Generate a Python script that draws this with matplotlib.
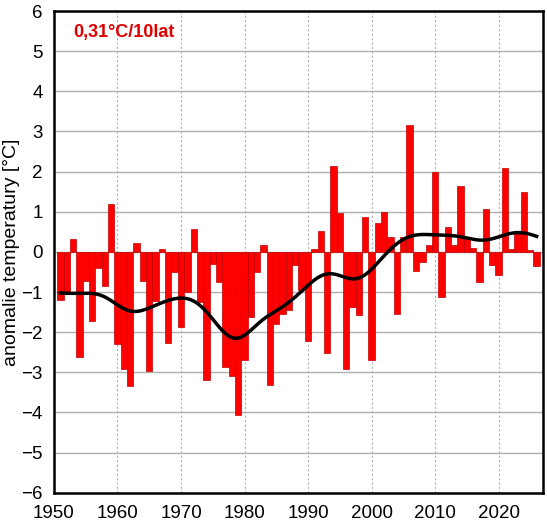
import numpy as np
import matplotlib
matplotlib.use("Agg")
import matplotlib.pyplot as plt

plt.rcParams['font.family'] = ['Liberation Sans', 'DejaVu Sans']

# annual temperature anomalies [°C]
years = list(range(1951, 2027))
anomalies = [
    -1.19, -1.05, 0.33, -2.63, -0.72, -1.71, -0.41, -0.84, 1.19, -2.30,   # 1951-1960
    -2.92, -3.34, 0.22, -0.72, -2.96, -1.22, 0.08, -2.26, -0.50, -1.88,   # 1961-1970
    -1.01, 0.57, -1.25, -3.20, -0.29, -0.75, -2.87, -3.08, -4.07, -2.70,  # 1971-1980
    -1.62, -0.50, 0.18, -3.31, -1.79, -1.54, -1.45, -0.32, -0.96, -2.21,  # 1981-1990
    0.08, 0.52, -2.52, 2.14, 0.96, -2.93, -1.37, -1.58, 0.86, -2.70,      # 1991-2000
    0.71, 1.00, 0.37, -1.54, 0.37, 3.17, -0.47, -0.25, 0.18, 1.99,        # 2001-2010
    -1.12, 0.61, 0.18, 1.64, 0.31, 0.09, -0.76, 1.06, -0.33, -0.58,       # 2011-2020
    2.09, 0.06, 0.52, 1.48, 0.04, -0.36,                                   # 2021-2026
]
trend_label = "0,31°C/10lat"


def smooth(x, y, sigma):
    """Gaussian-weighted moving average of the series."""
    x = np.asarray(x, float)
    y = np.asarray(y, float)
    xs = np.linspace(x.min(), x.max(), 400)
    w = np.exp(-0.5 * ((xs[:, None] - x[None, :]) / sigma) ** 2)
    return xs, (w * y).sum(axis=1) / w.sum(axis=1)


fig = plt.figure(figsize=(5.47, 5.25), dpi=100)
ax = fig.add_axes([0.0987, 0.0615, 0.8940, 0.9175])

ax.bar(years, anomalies, width=1.0, color='#ff0000', edgecolor='#c00000',
       linewidth=0.5, zorder=2)

xs, ys = smooth(years, anomalies, 3.0)
ax.plot(xs, ys, color='black', lw=2.5, zorder=3)

ax.set_xlim(1950, 2027)
ax.set_ylim(-6, 6)
ax.set_xticks(range(1950, 2021, 10))
ax.set_yticks(range(-6, 7))
ax.grid(axis='y', color='#b0b0b0', lw=1, zorder=0)
ax.grid(axis='x', color='#b0b0b0', lw=0.8, ls=(0, (2, 2)), zorder=0)
ax.set_axisbelow(True)
ax.tick_params(axis='x', length=0, labelsize=13.5, pad=9)
ax.tick_params(axis='y', length=0, labelsize=13.5, pad=8)
for s in ax.spines.values():
    s.set_linewidth(1.8)
    s.set_color('black')

ax.set_ylabel("anomalie temperatury [°C]", fontsize=14, labelpad=1)
ax.text(0.039, 0.956, trend_label, transform=ax.transAxes, color='#e00000',
        fontsize=13, fontweight='bold', ha='left', va='center')

fig.savefig("out.png", dpi=100)
